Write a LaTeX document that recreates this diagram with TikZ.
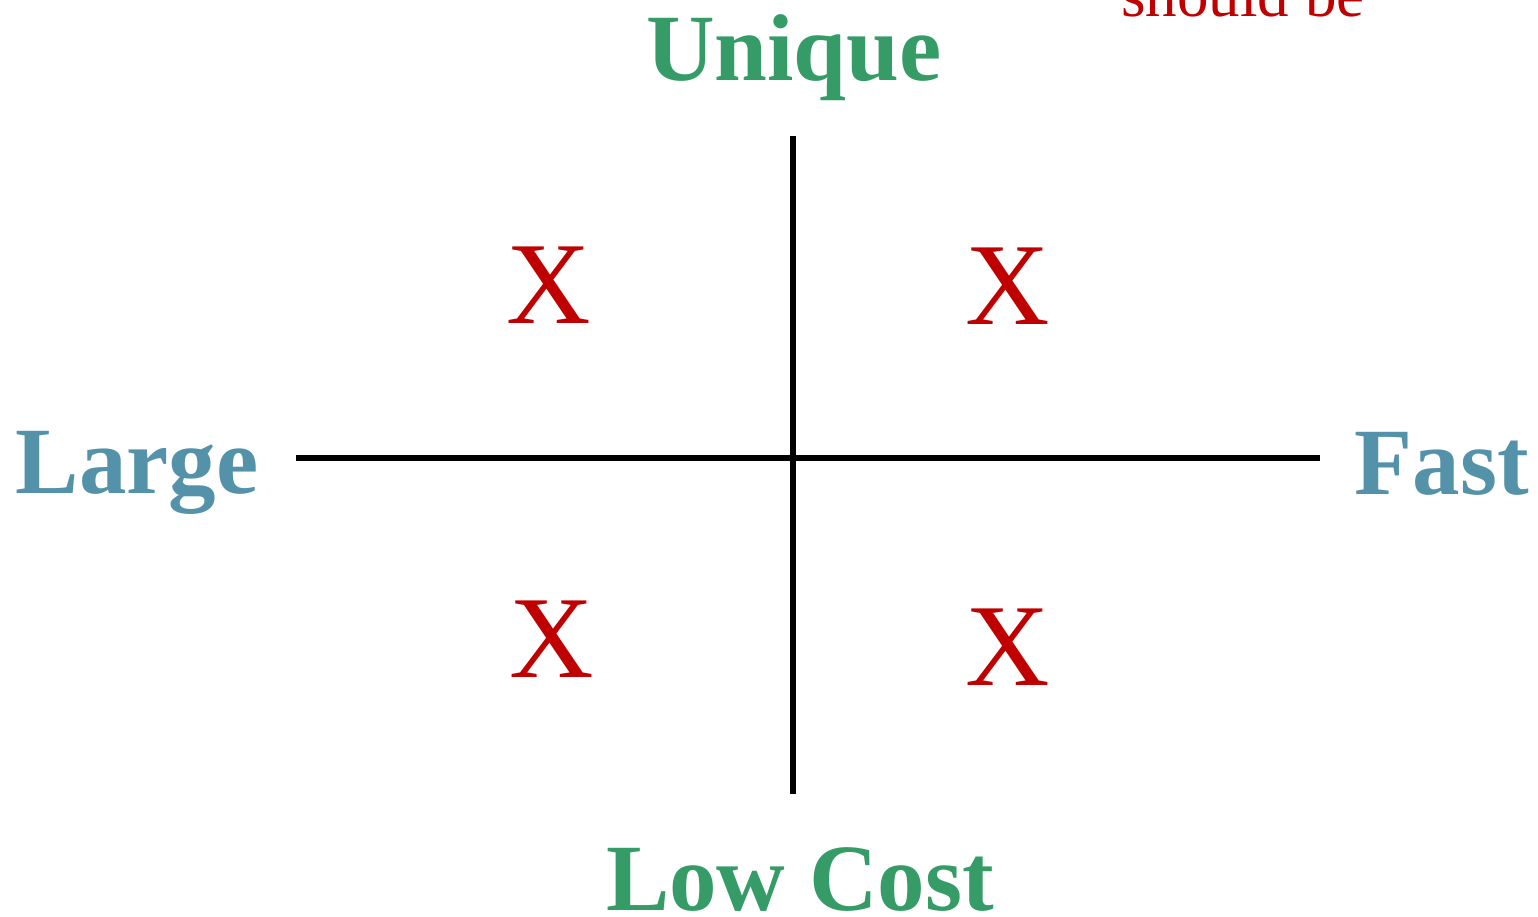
\documentclass[tikz,border=0pt]{standalone}
\usepackage{fontspec}
\setmainfont{Liberation Serif}
\definecolor{axgreen}{RGB}{53,155,103}
\definecolor{axblue}{RGB}{84,146,170}
\definecolor{xred}{RGB}{192,0,0}
\begin{document}
\begin{tikzpicture}[x=1pt,y=-1pt,
  axlabel/.style={inner sep=0pt,anchor=base,font=\fontsize{95}{95}\selectfont\bfseries},
  xmark/.style={inner sep=0pt,anchor=base,text=xred,font=\fontsize{117}{117}\selectfont},
  axis/.style={line width=6pt,black}]
\useasboundingbox (0,0) rectangle (1538,917);
\clip (0,0) rectangle (1538,917);
% axes
\coordinate (top) at (792.5,136);
\coordinate (bot) at (792.5,794);
\coordinate (left) at (296,457.5);
\coordinate (right) at (1320,457.5);
\draw[axis] (left) -- (right);
\draw[axis] (top) -- (bot);
% labels
\node[axlabel,text=axgreen] (unique) at (794,81) {Unique};
\node[axlabel,text=axgreen] (lowcost) at (800,910) {Low Cost};
\node[axlabel,text=axblue] (large) at (137,493) {Large};
\node[axlabel,text=axblue] (fast) at (1442,494) {Fast};
\node[inner sep=0pt,anchor=base,text=xred,font=\fontsize{63}{63}\selectfont] (should) at (1243,17) {should be};
% marks
\node[xmark] (x1) at (549,323) {X};
\node[xmark] (x2) at (1008,324) {X};
\node[xmark] (x3) at (552,677) {X};
\node[xmark] (x4) at (1008,685) {X};
\end{tikzpicture}
\end{document}
